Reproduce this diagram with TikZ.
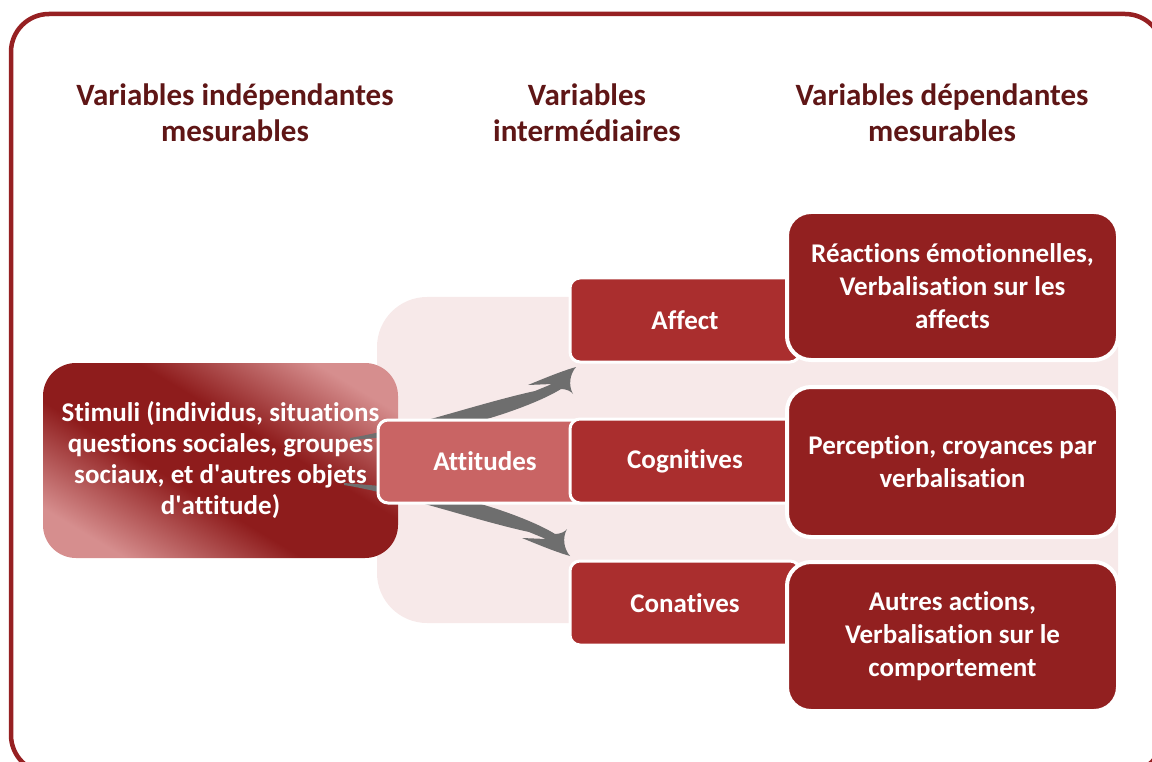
\documentclass[tikz,border=0pt]{standalone}
\usepackage{fontspec}
\setmainfont{Carlito}[Ligatures=NoCommon]
\definecolor{framered}{RGB}{150,32,34}
\definecolor{headred}{RGB}{95,22,22}
\definecolor{stimdark}{RGB}{142,28,28}
\definecolor{stimlight}{RGB}{214,142,142}
\definecolor{attred}{RGB}{201,100,100}
\definecolor{midred}{RGB}{170,46,46}
\definecolor{resred}{RGB}{146,32,32}
\definecolor{bgpink}{RGB}{247,233,233}
\definecolor{swgrey}{RGB}{110,110,110}
\pgfdeclareverticalshading{stimshade}{100bp}{color(0bp)=(stimlight); color(24bp)=(stimlight); color(42bp)=(stimdark); color(58bp)=(stimdark); color(76bp)=(stimlight); color(100bp)=(stimlight)}
\tikzset{
	head/.style={align=center, text=headred, font=\bfseries\fontsize{31}{36}\selectfont},
	cell/.style={rectangle, align=center, inner sep=0pt, text=white, font=\bfseries\fontsize{27}{33}\selectfont},
	midcell/.style={cell, fill=midred, draw=white, line width=3, rounded corners=10, minimum width=230, minimum height=84},
	rescell/.style={cell, fill=resred, draw=white, line width=4, rounded corners=24, minimum width=331},
	swoosh/.pic={
		\fill[swgrey] (-28,-23.5) .. controls (30,-33) and (100,-58) .. (157,-70.5) -- (174,-77.5) -- (150,-76.5)
		.. controls (167,-83.5) and (184,-90.5) .. (198,-94.5)
		.. controls (192,-87.5) and (190,-76.5) .. (195,-67.5)
		.. controls (193,-70.5) and (188,-72.5) .. (183,-72.5)
		.. controls (160,-58) and (100,-36) .. (40,-27) -- (-28,-21.5) -- cycle;
	}
}
\begin{document}
\begin{tikzpicture}[x=1pt, y=-1pt, line join=round]
	\useasboundingbox (0,0) rectangle (1152,762);
	% frame
	\draw[framered, line width=4.5, rounded corners=38] (11,14) rectangle (1163,773);
	% column titles
	\node[head] (h1) at (235,113) {Variables indépendantes\\mesurables};
	\node[head] (h2) at (587,113) {Variables\\intermédiaires};
	\node[head] (h3) at (942,113) {Variables dépendantes\\mesurables};
	% pale band behind the attitude part
	\fill[bgpink, rounded corners=50] (377,297) rectangle (1118,623);
	\node[cell, rounded corners=33, minimum width=355, minimum height=195, font=\bfseries\fontsize{27}{31}\selectfont,
		shading=stimshade, shading angle=-31] (stim) at (220.5,460.5)
		{Stimuli (individus, situations\\questions sociales, groupes\\sociaux, et d\textquotesingle autres objets\\d\textquotesingle attitude)};
	% arrows
	\pic at (378,461.5) {swoosh};
	\pic[xshift=-6, yscale=-1] at (378,461.5) {swoosh};
	\node[cell, fill=attred, draw=white, line width=3, rounded corners=10, minimum width=214, minimum height=83] (att) at (485,461.5) {Attitudes};
	\node[midcell] (aff) at (685,320) {Affect};
	\node[midcell] (cog) at (685,461) {Cognitives};
	\node[midcell] (con) at (685,603) {Conatives};
	\node[rescell, minimum height=148] (rea) at (952.5,286) {Réactions émotionnelles,\\Verbalisation sur les\\affects};
	\node[rescell, minimum height=150] (per) at (952.5,462) {Perception, croyances par\\verbalisation};
	\node[rescell, minimum height=149] (aut) at (952.5,636.5) {Autres actions,\\Verbalisation sur le\\comportement};
\end{tikzpicture}
\end{document}
